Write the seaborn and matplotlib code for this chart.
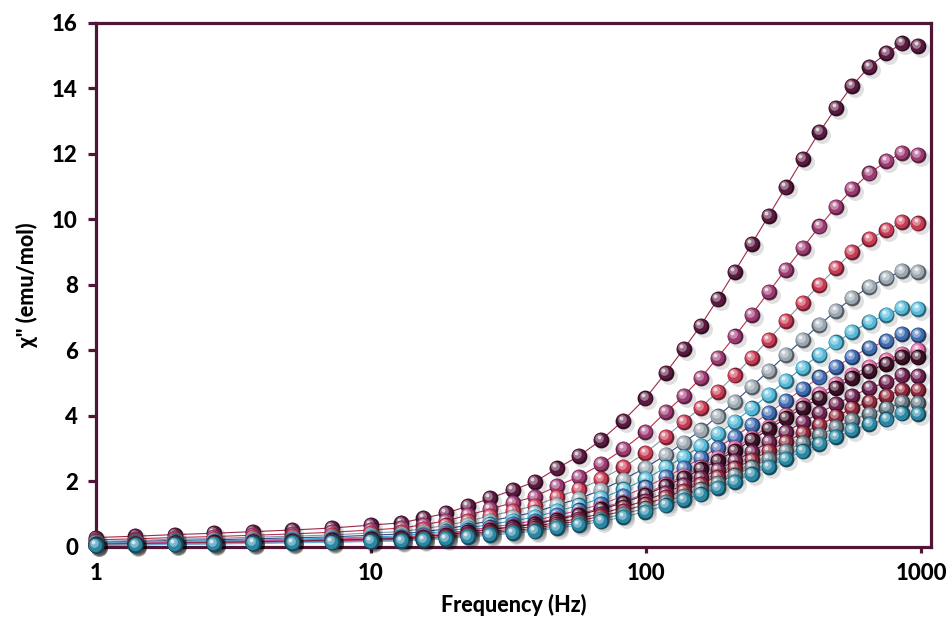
import numpy as np
import pandas as pd
import matplotlib
matplotlib.use("Agg")
import matplotlib.pyplot as plt
import matplotlib.colors as mcolors
from matplotlib.transforms import offset_copy
import seaborn as sns

# frequencies (Hz)
freq = [1, 1.39, 1.93, 2.68, 3.73, 5.18, 7.2, 10,
        12.9, 15.5, 18.7, 22.5, 27.1, 32.7, 39.4, 47.4, 57.1, 68.7, 82.7, 99.5,
        118, 137, 158, 182, 210, 242, 279, 322, 371, 427, 492, 562, 649, 749, 855, 977]

# chi'' (emu/mol) for each curve, top to bottom
s1 = [0.28, 0.32, 0.37, 0.41, 0.46, 0.51, 0.57, 0.66, 0.73, 0.87, 1.02, 1.24, 1.48, 1.73, 1.98, 2.39, 2.77, 3.26,
      3.85, 4.53, 5.31, 6.03, 6.75, 7.55, 8.40, 9.24, 10.10, 10.97, 11.83, 12.66, 13.41, 14.08, 14.66, 15.07, 15.37, 15.28]
s2 = [0.21, 0.24, 0.28, 0.31, 0.35, 0.39, 0.44, 0.51, 0.57, 0.67, 0.79, 0.96, 1.15, 1.34, 1.53, 1.85, 2.14, 2.52,
      2.98, 3.51, 4.11, 4.60, 5.15, 5.77, 6.42, 7.08, 7.77, 8.46, 9.12, 9.78, 10.38, 10.92, 11.40, 11.77, 12.03, 11.96]
s3 = [0.16, 0.19, 0.23, 0.25, 0.29, 0.32, 0.36, 0.42, 0.46, 0.55, 0.65, 0.78, 0.94, 1.09, 1.25, 1.51, 1.75, 2.06,
      2.43, 2.86, 3.36, 3.81, 4.25, 4.73, 5.23, 5.77, 6.32, 6.90, 7.45, 8.00, 8.51, 9.01, 9.40, 9.67, 9.91, 9.87]
s4 = [0.13, 0.16, 0.19, 0.21, 0.24, 0.27, 0.30, 0.35, 0.39, 0.46, 0.54, 0.66, 0.79, 0.92, 1.05, 1.27, 1.47, 1.73,
      2.05, 2.41, 2.80, 3.18, 3.55, 3.98, 4.42, 4.89, 5.36, 5.85, 6.32, 6.77, 7.21, 7.59, 7.94, 8.20, 8.43, 8.40]
s5 = [0.11, 0.13, 0.16, 0.18, 0.20, 0.23, 0.26, 0.30, 0.33, 0.40, 0.47, 0.57, 0.68, 0.79, 0.90, 1.09, 1.26, 1.48,
      1.75, 2.06, 2.42, 2.74, 3.07, 3.44, 3.82, 4.22, 4.64, 5.06, 5.47, 5.86, 6.24, 6.56, 6.86, 7.08, 7.30, 7.27]
s6 = [0.09, 0.11, 0.13, 0.15, 0.18, 0.20, 0.23, 0.27, 0.29, 0.35, 0.41, 0.50, 0.59, 0.69, 0.79, 0.96, 1.11, 1.30,
      1.54, 1.81, 2.12, 2.41, 2.70, 3.02, 3.36, 3.71, 4.08, 4.45, 4.81, 5.17, 5.50, 5.80, 6.08, 6.28, 6.49, 6.46]
s7 = [0.08, 0.10, 0.12, 0.14, 0.16, 0.18, 0.21, 0.25, 0.27, 0.32, 0.38, 0.46, 0.54, 0.62, 0.71, 0.86, 1.00, 1.18,
      1.38, 1.62, 1.90, 2.16, 2.42, 2.70, 3.01, 3.33, 3.67, 4.01, 4.34, 4.66, 4.97, 5.25, 5.50, 5.71, 5.88, 6.00]
s8 = [0.07, 0.09, 0.11, 0.13, 0.15, 0.17, 0.20, 0.23, 0.26, 0.31, 0.36, 0.44, 0.52, 0.60, 0.69, 0.83, 0.97, 1.14,
      1.34, 1.58, 1.85, 2.10, 2.36, 2.63, 2.93, 3.25, 3.58, 3.92, 4.24, 4.54, 4.85, 5.14, 5.38, 5.58, 5.79, 5.78]
s9 = [0.06, 0.08, 0.10, 0.12, 0.13, 0.15, 0.18, 0.21, 0.23, 0.27, 0.32, 0.39, 0.46, 0.54, 0.62, 0.74, 0.86, 1.01,
      1.20, 1.41, 1.65, 1.88, 2.10, 2.35, 2.61, 2.90, 3.19, 3.50, 3.80, 4.08, 4.36, 4.60, 4.84, 5.02, 5.23, 5.21]
s10 = [0.05, 0.07, 0.09, 0.10, 0.12, 0.14, 0.16, 0.19, 0.21, 0.25, 0.29, 0.35, 0.42, 0.49, 0.56, 0.68, 0.79, 0.93,
       1.09, 1.29, 1.51, 1.71, 1.92, 2.14, 2.39, 2.64, 2.92, 3.20, 3.47, 3.72, 3.98, 4.22, 4.43, 4.60, 4.80, 4.78]
s11 = [0.05, 0.06, 0.08, 0.09, 0.11, 0.13, 0.15, 0.17, 0.19, 0.23, 0.27, 0.32, 0.39, 0.45, 0.51, 0.62, 0.72, 0.84,
       1.00, 1.17, 1.38, 1.56, 1.75, 1.96, 2.18, 2.42, 2.67, 2.93, 3.17, 3.41, 3.65, 3.87, 4.06, 4.22, 4.41, 4.40]
s12 = [0.04, 0.05, 0.07, 0.08, 0.10, 0.12, 0.13, 0.16, 0.17, 0.21, 0.24, 0.30, 0.35, 0.41, 0.47, 0.57, 0.66, 0.77,
       0.91, 1.07, 1.26, 1.43, 1.60, 1.79, 1.99, 2.21, 2.44, 2.69, 2.91, 3.13, 3.35, 3.56, 3.74, 3.89, 4.07, 4.06]

series = [s1, s2, s3, s4, s5, s6, s7, s8, s9, s10, s11, s12]
ball_colors = ['#5a1a40', '#9c3a72', '#c63a54', '#9ba7b0', '#55b9d8', '#3f6cb0',
               '#e066a2', '#3c0f27', '#6d2150', '#8e2438', '#60737e', '#2a87a4']
line_colors = ['#9a2a4c', '#b8304c', '#8a96a6', '#2f4f95', '#3aa5cc', '#e0458c',
               '#d05a90', '#6b1e45', '#a02a45', '#b03052', '#7a8a98', '#70b0dc']

frame = '#4f1637'

sns.set_style('ticks')
plt.rcParams['font.family'] = ['Lato', 'DejaVu Sans']

fig = plt.figure(figsize=(9.51, 6.23), dpi=100)
ax = fig.add_axes([96 / 951, 1 - 546.7 / 623, (931 - 96) / 951, 524 / 623])

# thin connecting curves
for i, vals in enumerate(series):
    df = pd.DataFrame({'freq': freq, 'chi': vals})
    sns.lineplot(data=df, x='freq', y='chi', ax=ax, color=line_colors[i],
                 linewidth=0.8, zorder=2, estimator=None, sort=False, legend=False)

S = 130


def shifted(dx, dy):
    return offset_copy(ax.transData, fig=fig, x=dx, y=dy, units='dots')


# shaded balls, top series at the back
for i, vals in enumerate(series):
    z = 3 + i * 0.01
    base = np.array(mcolors.to_rgb(ball_colors[i]))
    rim = base * 0.55
    light = base + (1 - base) * 0.4
    ax.scatter(freq, vals, s=S * 1.15, color='black', alpha=0.12, linewidths=0,
               transform=shifted(3, -3), zorder=z, clip_on=False)
    ax.scatter(freq, vals, s=S, color=rim, linewidths=0, zorder=z + 0.001, clip_on=False)
    ax.scatter(freq, vals, s=S * 0.72, color=base, linewidths=0,
               transform=shifted(-0.8, 0.8), zorder=z + 0.002, clip_on=False)
    ax.scatter(freq, vals, s=S * 0.3, color=light, linewidths=0,
               transform=shifted(-1.8, 2.0), zorder=z + 0.003, clip_on=False)
    ax.scatter(freq, vals, s=S * 0.06, color='white', alpha=0.7, linewidths=0,
               transform=shifted(-2.6, 3.0), zorder=z + 0.004, clip_on=False)

ax.set_xscale('log')
ax.set_xlim(1, 10 ** (835 / 275))
ax.set_ylim(0, 16)
ax.set_xticks([1, 10, 100, 1000])
ax.set_xticklabels(['1', '10', '100', '1000'])
ax.xaxis.set_minor_locator(matplotlib.ticker.NullLocator())
ax.set_yticks(range(0, 17, 2))

for sp in ax.spines.values():
    sp.set_color(frame)
    sp.set_linewidth(2.3)
    sp.set_visible(True)
ax.tick_params(axis='both', colors=frame, width=2.3, labelcolor='black', labelsize=16)
ax.tick_params(axis='y', length=6, pad=7)
ax.tick_params(axis='x', length=4, pad=8)
for lab in ax.get_xticklabels() + ax.get_yticklabels():
    lab.set_fontweight(900)

ax.set_xlabel('Frequency (Hz)', fontsize=15.5, fontweight=900, color='black', labelpad=7)
ax.set_ylabel('χ" (emu/mol)', fontsize=15.5, fontweight=900, color='black', labelpad=10)

fig.savefig('out.png', dpi=100)
